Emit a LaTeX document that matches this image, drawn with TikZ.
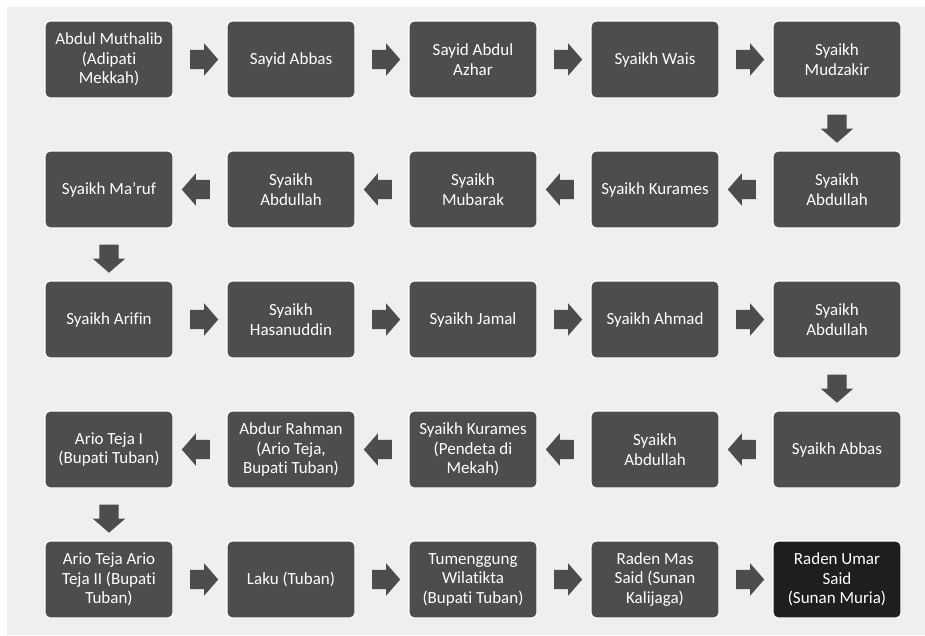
\documentclass[tikz,border=0pt]{standalone}
\usepackage{fontspec}
\setmainfont[Ligatures=NoCommon]{Carlito}
\usepackage{tikz}
\usetikzlibrary{shapes.arrows, calc, positioning}
\definecolor{boxgray}{HTML}{4D4D4D}
\definecolor{boxdark}{HTML}{1E1E1E}
\definecolor{bggray}{HTML}{EFEFEF}

\begin{document}
\begin{tikzpicture}[x=1pt, y=-1pt,
  gbox/.style    = {draw=white, line width=1.2pt, fill=boxgray, rounded corners=5pt, minimum width=128pt, minimum height=77pt, inner sep=2pt, align=center, text=white, font=\fontsize{17}{19.5}\selectfont},
  lastbox/.style = {gbox, fill=boxdark},
  blockarr/.style = {single arrow, fill=boxgray, draw=none, minimum height=28pt, inner xsep=0pt, inner ysep=9.5pt, single arrow head extend=6.5pt, single arrow tip angle=98},
  goright/.style = {blockarr},
  goleft/.style  = {blockarr, rotate=180},
  godown/.style  = {blockarr, rotate=270},
]
\useasboundingbox (0,0) rectangle (925,635);
\fill[bggray] (7,7) rectangle (925,635);
% row 1
\node[gbox] (g1) at (109, 59.5) {Abdul Muthalib\\(Adipati\\Mekkah)};
\node[gbox] (g2) at (291, 59.5) {Sayid Abbas};
\node[gbox] (g3) at (473, 59.5) {Sayid Abdul\\Azhar};
\node[gbox] (g4) at (655, 59.5) {Syaikh Wais};
\node[gbox] (g5) at (837, 59.5) {Syaikh\\Mudzakir};
% row 2
\node[gbox] (g6) at (837, 189.5) {Syaikh\\Abdullah};
\node[gbox] (g7) at (655, 189.5) {Syaikh Kurames};
\node[gbox] (g8) at (473, 189.5) {Syaikh\\Mubarak};
\node[gbox] (g9) at (291, 189.5) {Syaikh\\Abdullah};
\node[gbox] (g10) at (109, 189.5) {Syaikh Ma’ruf};
% row 3
\node[gbox] (g11) at (109, 319.5) {Syaikh Arifin};
\node[gbox] (g12) at (291, 319.5) {Syaikh\\Hasanuddin};
\node[gbox] (g13) at (473, 319.5) {Syaikh Jamal};
\node[gbox] (g14) at (655, 319.5) {Syaikh Ahmad};
\node[gbox] (g15) at (837, 319.5) {Syaikh\\Abdullah};
% row 4
\node[gbox] (g16) at (837, 449.5) {Syaikh Abbas};
\node[gbox] (g17) at (655, 449.5) {Syaikh\\Abdullah};
\node[gbox] (g18) at (473, 449.5) {Syaikh Kurames\\(Pendeta di\\Mekah)};
\node[gbox] (g19) at (291, 449.5) {Abdur Rahman\\(Ario Teja,\\Bupati Tuban)};
\node[gbox] (g20) at (109, 449.5) {Ario Teja I\\(Bupati Tuban)};
% row 5
\node[gbox] (g21) at (109, 579.5) {Ario Teja Ario\\Teja II (Bupati\\Tuban)};
\node[gbox] (g22) at (291, 579.5) {Laku (Tuban)};
\node[gbox] (g23) at (473, 579.5) {Tumenggung\\Wilatikta\\(Bupati Tuban)};
\node[gbox] (g24) at (655, 579.5) {Raden Mas\\Said (Sunan\\Kalijaga)};
\node[lastbox] (g25) at (837, 579.5) {Raden Umar\\Said\\(Sunan Muria)};
% arrows
\node[goright] (a1) at ($(g1.east)!0.5!(g2.west)$) {};
\node[goright] (a2) at ($(g2.east)!0.5!(g3.west)$) {};
\node[goright] (a3) at ($(g3.east)!0.5!(g4.west)$) {};
\node[goright] (a4) at ($(g4.east)!0.5!(g5.west)$) {};
\node[godown] (a5) at ($(g5.south)!0.5!(g6.north)$) {};
\node[goleft] (a6) at ($(g6.west)!0.5!(g7.east)$) {};
\node[goleft] (a7) at ($(g7.west)!0.5!(g8.east)$) {};
\node[goleft] (a8) at ($(g8.west)!0.5!(g9.east)$) {};
\node[goleft] (a9) at ($(g9.west)!0.5!(g10.east)$) {};
\node[godown] (a10) at ($(g10.south)!0.5!(g11.north)$) {};
\node[goright] (a11) at ($(g11.east)!0.5!(g12.west)$) {};
\node[goright] (a12) at ($(g12.east)!0.5!(g13.west)$) {};
\node[goright] (a13) at ($(g13.east)!0.5!(g14.west)$) {};
\node[goright] (a14) at ($(g14.east)!0.5!(g15.west)$) {};
\node[godown] (a15) at ($(g15.south)!0.5!(g16.north)$) {};
\node[goleft] (a16) at ($(g16.west)!0.5!(g17.east)$) {};
\node[goleft] (a17) at ($(g17.west)!0.5!(g18.east)$) {};
\node[goleft] (a18) at ($(g18.west)!0.5!(g19.east)$) {};
\node[goleft] (a19) at ($(g19.west)!0.5!(g20.east)$) {};
\node[godown] (a20) at ($(g20.south)!0.5!(g21.north)$) {};
\node[goright] (a21) at ($(g21.east)!0.5!(g22.west)$) {};
\node[goright] (a22) at ($(g22.east)!0.5!(g23.west)$) {};
\node[goright] (a23) at ($(g23.east)!0.5!(g24.west)$) {};
\node[goright] (a24) at ($(g24.east)!0.5!(g25.west)$) {};
\end{tikzpicture}
\end{document}
